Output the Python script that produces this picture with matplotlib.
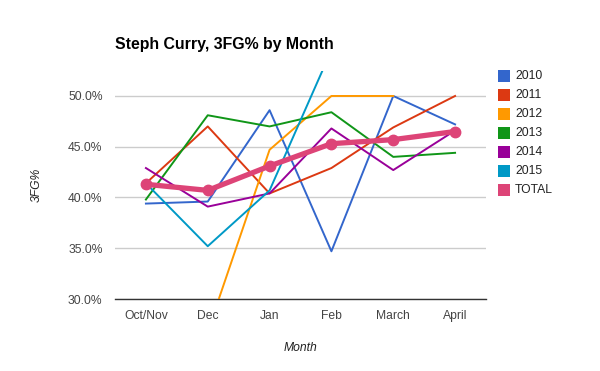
import matplotlib
matplotlib.use('Agg')
import matplotlib.pyplot as plt
import numpy as np
from matplotlib.patches import Rectangle
from matplotlib.ticker import FuncFormatter

plt.rcParams['font.family'] = ['Liberation Sans', 'DejaVu Sans']

months = ['Oct/Nov', 'Dec', 'Jan', 'Feb', 'March', 'April']
nan = np.nan

y2010 = [39.4, 39.6, 48.6, 34.7, 50.0, 47.2]
y2011 = [41.4, 47.0, 40.4, 42.9, 46.9, 50.0]
y2012 = [nan, 26.8, 44.7, 50.0, 50.0, nan]
y2013 = [39.8, 48.1, 47.0, 48.4, 44.0, 44.4]
y2014 = [42.9, 39.1, 40.4, 46.8, 42.7, 46.6]
y2015 = [41.4, 35.2, 40.7, 54.5, nan, nan]
total = [41.3, 40.7, 43.1, 45.3, 45.7, 46.5]

names = ['2010', '2011', '2012', '2013', '2014', '2015', 'TOTAL']
series = [y2010, y2011, y2012, y2013, y2014, y2015, total]
colors = ['#3366cc', '#dc3912', '#ff9900', '#109618', '#990099', '#0099c6', '#dd4477']

fig = plt.figure(figsize=(6, 3.71), dpi=100)
fig.patch.set_facecolor('white')
ax = fig.add_axes([115/600, 72/371, 371/600, 228/371])

x = np.arange(len(months))
for name, vals, c in zip(names, series, colors):
    if name == 'TOTAL':
        ax.plot(x, vals, color=c, lw=3.8, marker='o', markersize=7.5, zorder=5,
                solid_capstyle='round')
    else:
        ax.plot(x, vals, color=c, lw=1.4, zorder=3)

ax.set_xlim(-0.5, len(months) - 0.5)
ax.set_ylim(30, 52.46)
ax.set_yticks([30, 35, 40, 45, 50])
ax.yaxis.set_major_formatter(FuncFormatter(lambda v, p: f'{v:.1f}%'))
ax.set_xticks(x)
ax.set_xticklabels(months)
ax.grid(axis='y', color='#cccccc', lw=1)
ax.set_axisbelow(True)
for s in ['top', 'right', 'left']:
    ax.spines[s].set_visible(False)
ax.spines['bottom'].set_color('#333333')
ax.spines['bottom'].set_linewidth(1)
ax.tick_params(length=0, labelsize=8.7, labelcolor='#444444')
ax.tick_params(axis='x', pad=8)
ax.tick_params(axis='y', pad=9)

ax.set_xlabel('Month', fontstyle='italic', fontsize=8.7, color='#222222', labelpad=14)
ax.set_ylabel('3FG%', fontstyle='italic', fontsize=8.7, color='#222222', labelpad=18)

fig.text(115/600, 1 - 44/371, 'Steph Curry, 3FG% by Month', fontsize=11.4,
         fontweight='bold', va='center', ha='left', color='#000000')

# legend
for i, (name, c) in enumerate(zip(names, colors)):
    yc = 76 + i * 19
    fig.add_artist(Rectangle((498/600, 1 - (yc + 6)/371), 12/600, 12/371,
                             transform=fig.transFigure, fc=c, ec='none'))
    fig.text(515/600, 1 - yc/371, name, fontsize=8.7, color='#222222',
             va='center', ha='left')

plt.savefig('out.png', dpi=100, facecolor='white')
